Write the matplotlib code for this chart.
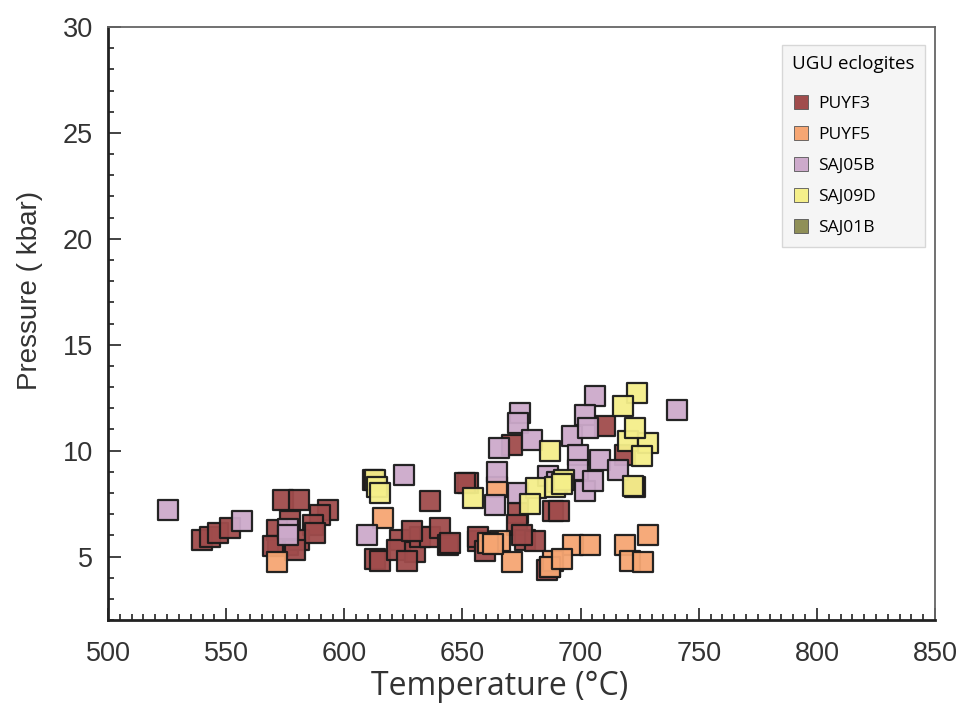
import matplotlib
matplotlib.use("Agg")
import matplotlib.pyplot as plt
from matplotlib.ticker import MultipleLocator
from matplotlib.lines import Line2D

series_names = ["PUYF3", "PUYF5", "SAJ05B", "SAJ09D", "SAJ01B"]
series_colors = ["#a04c4c", "#f6a673", "#cdaacb", "#f5ef8a", "#8f8f57"]

puyf3_T = [539.8, 543, 546.5, 551.6, 574, 580.8, 593, 589.7, 586.7, 577, 571.5, 572, 576, 581, 587.6,
           579, 569.8, 636.2, 652.3, 613, 615, 623.5, 622.3, 629.9, 632, 636.2, 640.4, 643.8, 628.6,
           656.5, 626.5, 651, 673.4, 673, 688.2, 656.5, 676.4, 680.6, 659.5, 685.7, 644.7, 670.9,
           710.2, 718.7, 691, 675, 612, 687, 723]
puyf3_P = [5.8, 5.9, 6.1, 6.36, 7.68, 7.68, 7.2, 6.97, 6.5, 6.7, 6.27, 5.5, 5.56, 5.8, 6.1,
           5.33, 5.5, 7.6, 8.47, 4.86, 4.8, 5.8, 5.33, 5.19, 5.9, 5.9, 6.36, 5.56, 6.2,
           5.75, 4.8, 8.47, 7.06, 6.5, 7.16, 5.9, 5.8, 5.75, 5.28, 4.34, 5.66, 10.26,
           11.15, 9.8, 7.16, 6.0, 8.6, 4.5, 8.3]

puyf5_T = [571.5, 616.3, 664.6, 665.8, 670.9, 660.7, 688.2, 687, 696.7, 703.9, 718.7, 728.4, 720.8,
           726.3, 692, 663]
puyf5_P = [4.72, 6.8, 8.3, 5.75, 4.72, 5.66, 4.8, 4.5, 5.56, 5.56, 5.56, 6.03, 4.8,
           4.72, 4.86, 5.6]

saj05b_T = [525.4, 556.7, 576, 609.6, 625.2, 674.3, 673.4, 665.4, 679.4, 664.6, 663.7, 673.4,
            706, 701.8, 696.3, 703, 698.8, 708, 715.7, 698.8, 701.8, 705.2, 740.7, 686, 690, 576]
saj05b_P = [7.2, 6.7, 6.3, 6.0, 8.85, 11.76, 11.3, 10.1, 10.5, 9.0, 7.45, 8.0,
            12.56, 11.7, 10.7, 11.05, 9.8, 9.55, 9.1, 9.1, 8.1, 8.57, 11.9, 8.8, 8.5, 6.0]

saj09d_T = [613, 614, 615, 654.4, 687, 681, 689, 678.5, 693, 723.8, 717.9, 720, 728.4, 723,
            725.9, 722, 692]
saj09d_P = [8.6, 8.3, 8.0, 7.77, 10.0, 8.24, 8.3, 7.5, 8.6, 12.7, 12.1, 10.45, 10.35, 11.05,
            9.74, 8.33, 8.4]

saj01b_T = []
saj01b_P = []

data = [(puyf3_T, puyf3_P), (puyf5_T, puyf5_P), (saj05b_T, saj05b_P), (saj09d_T, saj09d_P),
        (saj01b_T, saj01b_P)]

fig = plt.figure(figsize=(9.62, 7.16), dpi=100)
ax = fig.add_axes([0.1123, 0.134, 0.8597, 0.8283])

for (T, P), c in zip(data, series_colors):
    if len(T):
        ax.scatter(T, P, marker="s", s=200, facecolor=c, edgecolor="#1a1a1a",
                   linewidths=1.6, alpha=0.95, zorder=3)

ax.set_xlim(500, 850)
ax.set_ylim(2, 30)
ax.xaxis.set_major_locator(MultipleLocator(50))
ax.xaxis.set_minor_locator(MultipleLocator(5))
ax.yaxis.set_major_locator(MultipleLocator(5))
ax.yaxis.set_minor_locator(MultipleLocator(1))
ax.set_yticks([5, 10, 15, 20, 25, 30])

ax.tick_params(which="both", direction="in", top=False, right=False, width=1.2, color="#222222")
ax.tick_params(which="major", length=9, labelsize=19.5)
ax.tick_params(axis="y", which="major", pad=11)
ax.tick_params(axis="x", which="major", pad=15)
ax.tick_params(which="minor", length=4)
for lab in ax.get_xticklabels() + ax.get_yticklabels():
    lab.set_fontfamily("Liberation Sans")
    lab.set_color("#333333")

for s in ["left", "bottom"]:
    ax.spines[s].set_linewidth(2.0)
    ax.spines[s].set_color("#222222")
for s in ["top", "right"]:
    ax.spines[s].set_linewidth(1.3)
    ax.spines[s].set_color("#666666")

ax.set_xlabel("Temperature (°C)", fontsize=23, family="Open Sans", color="#333333", labelpad=2.5)
ax.set_ylabel("Pressure ( kbar)", fontsize=20, family="Liberation Sans", color="#333333", labelpad=14)
ax.xaxis.label.set_x(0.474)
ax.yaxis.label.set_y(0.556)

handles = [Line2D([], [], marker="s", linestyle="none", markersize=9.5, markerfacecolor=c,
                  markeredgecolor="#555555", markeredgewidth=0.6) for c in series_colors]
leg = ax.legend(handles, series_names, title="UGU eclogites", loc="upper right",
                bbox_to_anchor=(0.988, 0.9696), frameon=True, fancybox=False,
                prop={"family": "Open Sans", "size": 12.5},
                title_fontproperties={"family": "Open Sans", "size": 13.5},
                handletextpad=0.5, labelspacing=0.86, borderpad=0.6, handlelength=1.0,
                borderaxespad=0)
leg.get_frame().set_facecolor("#f3f3f3")
leg.get_frame().set_edgecolor("#cfcfcf")
leg.get_frame().set_linewidth(1.0)
leg._legend_box.align = "left"
leg._legend_box.sep = 16

fig.savefig("out.png", dpi=100)
